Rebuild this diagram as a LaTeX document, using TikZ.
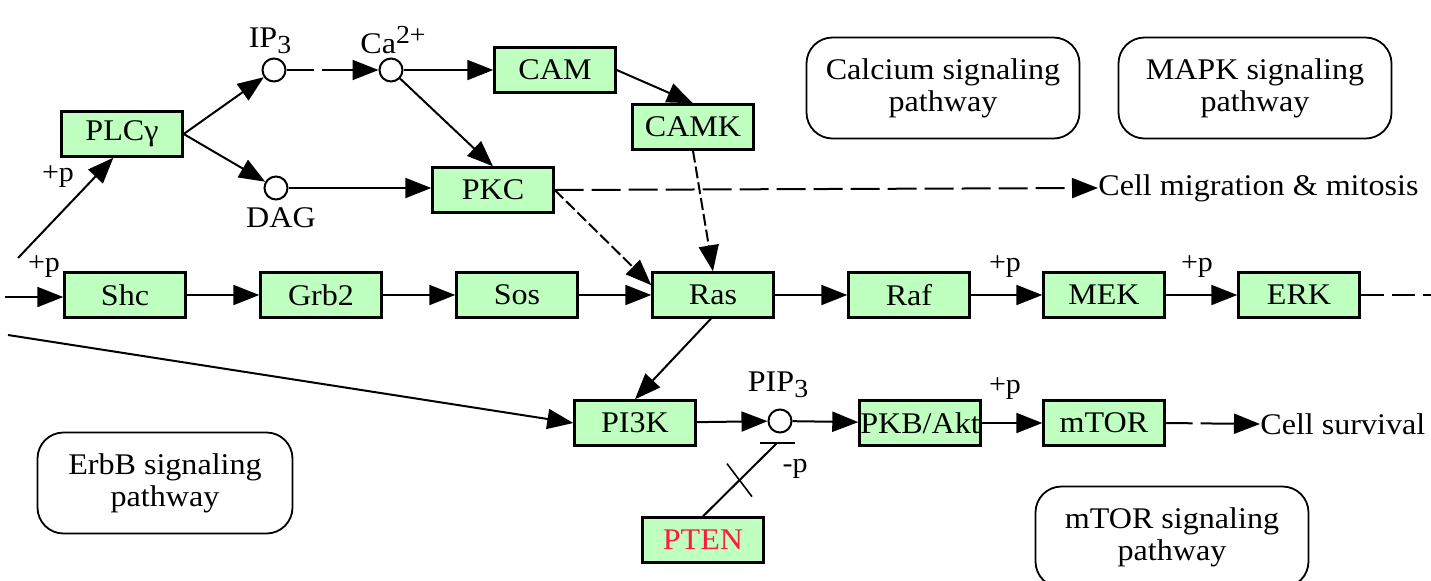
\documentclass[tikz,border=0pt]{standalone}
\usepackage{fontspec}
\setmainfont{Liberation Serif}[FakeStretch=1.07]
\usetikzlibrary{arrows.meta,calc}
\definecolor{genefill}{HTML}{BFFFBF}
\definecolor{ptenred}{HTML}{FF1A3C}
\tikzset{
  gene/.style={draw, line width=1.2pt, fill=genefill, minimum width=60.5pt, minimum height=22.5pt, inner sep=0pt, font=\fontsize{15}{17}\selectfont},
  cpd/.style={circle, draw, line width=1pt, fill=white, minimum size=11.5pt, inner sep=0pt},
  pathbox/.style={draw, line width=0.9pt, rounded corners=13pt, minimum width=136.5pt, minimum height=50.5pt, align=center, font=\fontsize{15}{16}\selectfont},
  lbl/.style={inner sep=0pt, font=\fontsize{14}{16}\selectfont},
  cpdlbl/.style={inner sep=0pt, font=\fontsize{15}{17}\selectfont},
  arr/.style={line width=1pt, -{Triangle[length=13pt,width=10pt]}},
  plain/.style={line width=1pt},
  shortdash/.style={dash pattern=on 6pt off 2pt},
  longdash/.style={dash pattern=on 14.5pt off 4pt},
  onegap/.style={dash pattern=on 13.5pt off 4pt on 200pt off 0pt},
}
\newcommand{\mysub}[1]{\raisebox{-3pt}{\fontsize{13}{13}\selectfont #1}}
\newcommand{\mysup}[1]{\raisebox{5pt}{\fontsize{13}{13}\selectfont #1}}
\begin{document}
\begin{tikzpicture}[x=0.5pt,y=-0.5pt]
\useasboundingbox (0,0) rectangle (1431,580);
\fill[white] (0,0) rectangle (1431,580);
\begin{scope}
\clip (0,0) rectangle (1431,580);
% pathway boxes
\node[pathbox] (calc) at (943,88) {Calcium signaling\\pathway};
\node[pathbox] (mapk) at (1255,88) {MAPK signaling\\pathway};
\node[pathbox, minimum width=127.5pt] (erbb) at (165,483) {ErbB signaling\\pathway};
\node[pathbox] (mtorp) at (1172,537) {mTOR signaling\\pathway};

% genes
\node[gene] (plc) at (122,134) {PLCγ};
\node[gene] (cam) at (555,70) {CAM};
\node[gene] (camk) at (693,127) {CAMK};
\node[gene] (pkc) at (493,190) {PKC};
\node[gene] (shc) at (125,295) {Shc};
\node[gene] (grb2) at (321,295) {Grb2};
\node[gene] (sos) at (517,295) {Sos};
\node[gene] (ras) at (713,295) {Ras};
\node[gene] (raf) at (909,295) {Raf};
\node[gene] (mek) at (1104,295) {MEK};
\node[gene] (erk) at (1299,295) {ERK};
\node[gene] (pi3k) at (635,423) {PI3K};
\node[gene] (pkb) at (920,423) {PKB/Akt};
\node[gene] (mtor) at (1104,423) {mTOR};
\node[gene, text=ptenred] (pten) at (703,540) {PTEN};

% compounds
\node[cpd] (ip3) at (274,70) {};
\node[cpd] (ca) at (391,70) {};
\node[cpd] (dag) at (276,188) {};
\node[cpd] (pip3) at (780,421) {};
\node[cpdlbl] (ip3l) at (270,41) {IP\mysub{3}};
\node[cpdlbl] (cal) at (393,40) {Ca\mysup{2+}};
\node[cpdlbl] (dagl) at (281,218) {DAG};
\node[cpdlbl] (pip3l) at (778,385) {PIP\mysub{3}};

% outputs
\node[lbl, anchor=west, font=\fontsize{15}{17}\selectfont] (mig) at (1098,188) {Cell migration \& mitosis};
\node[lbl, anchor=west, font=\fontsize{15}{17}\selectfont] (surv) at (1260,424) {Cell survival};

% +p / -p labels
\node[lbl] (p1) at (58,177) {+p};
\node[lbl] (p2) at (44,267) {+p};
\node[lbl] (p3) at (1005,267) {+p};
\node[lbl] (p4) at (1197,267) {+p};
\node[lbl] (p5) at (1005,389) {+p};
\node[lbl] (m1) at (795,469) {-p};

% free ends
\coordinate (inshc) at (5,297);
\coordinate (inplc) at (18,258);
\coordinate (inpi3k) at (8,335);
\coordinate (erkout) at (1431,295);
\coordinate (bar) at (777,443);

% edges
\draw[arr] (inshc) -- (shc.west |- inshc);
\draw[arr] (inplc) -- (plc.250);
\draw[arr] (plc.east) -- (ip3);
\draw[arr] (plc.east) -- (dag);
\draw[arr, onegap] (ip3) -- (ca);
\draw[arr] (ca) -- (cam);
\draw[arr] (ca) -- (pkc.north);
\draw[arr] (dag) -- (dag -| pkc.west);
\draw[arr] (cam.east) -- (camk.north);
\draw[arr, shortdash] (camk.south) -- (ras.north);
\draw[arr, shortdash] (pkc.east) -- (ras.171);
\draw[arr, longdash] (pkc.east) -- (mig.west);
\draw[arr] (shc) -- (grb2);
\draw[arr] (grb2) -- (sos);
\draw[arr] (sos) -- (ras);
\draw[arr] (ras) -- (raf);
\draw[arr] (raf) -- (mek);
\draw[arr] (mek) -- (erk);
\draw[plain, dash pattern=on 11.5pt off 4pt] (erk.east) -- (erkout);
\draw[arr] (ras.265) -- (pi3k.north);
\draw[arr] (inpi3k) -- (pi3k.west);
\draw[arr] (pi3k) -- (pip3);
\draw[arr] (pip3) -- (pkb);
\draw[arr] (pkb) -- (mtor);
\draw[arr, onegap] (mtor.east) -- (surv.west);
% inhibition by PTEN
\draw[plain] (pten.north) -- (bar);
\draw[line width=1.4pt] ($(bar)+(-17,0)$) -- ($(bar)+(18,0)$);
\draw[line width=0.8pt] ($(pten.north)!0.5!(bar)+(-13,-16)$) -- ++(25,33);
\end{scope}
\end{tikzpicture}
\end{document}
